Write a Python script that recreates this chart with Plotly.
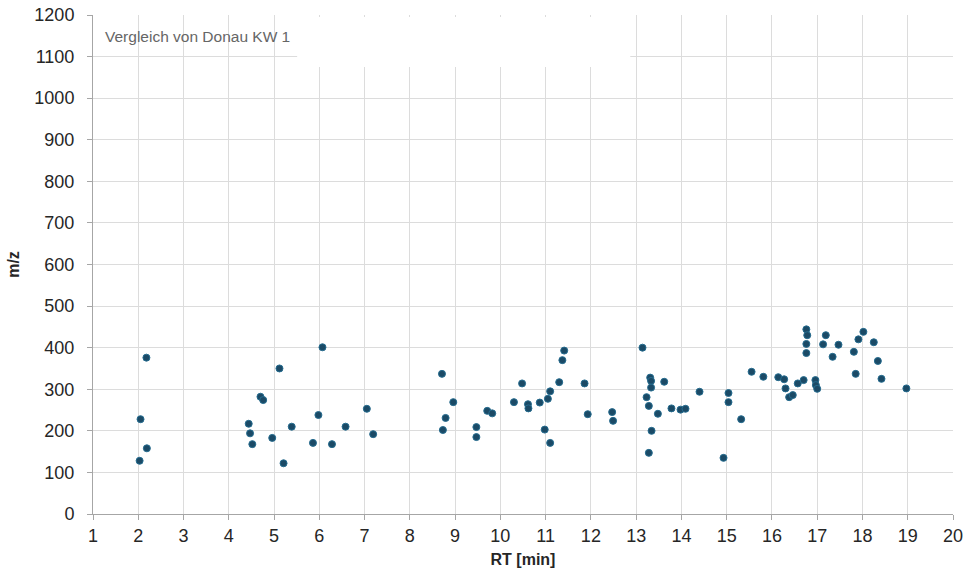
import plotly.graph_objects as go

# Retention time [min]
rt = [2.18, 2.05, 2.19, 2.03, 5.12, 4.70, 4.76, 4.44, 4.47, 4.52, 4.96, 5.39, 5.21,
      6.07, 5.86, 5.98, 6.28, 6.58, 7.05, 7.19, 8.71, 8.79, 8.73, 8.96, 9.47, 9.47,
      9.71, 9.82, 10.30,
      10.48, 10.61, 10.62, 10.87, 11.05, 11.10, 10.98, 11.10, 11.30, 11.37, 11.41,
      11.86, 11.93, 12.47, 12.49, 13.14, 13.31, 13.33, 13.33, 13.23, 13.28, 13.34,
      13.28, 13.48, 13.62, 13.78, 13.98, 14.09, 14.40,
      14.93, 15.04, 15.04, 15.32, 15.55, 15.81, 16.14, 16.27, 16.30, 16.38, 16.46,
      16.57, 16.70, 16.76, 16.78, 16.76, 16.76, 16.96, 16.97, 17.00, 17.19, 17.13,
      17.34, 17.47, 17.81, 17.85, 17.91, 18.02, 18.25, 18.34, 18.42, 18.97]
# m/z
mz = [376, 228, 158, 128, 350, 282, 274, 217, 194, 168, 183, 210, 122,
      401, 171, 238, 168, 210, 253, 192, 337, 231, 202, 269, 209, 185,
      248, 242, 269,
      314, 264, 254, 268, 277, 295, 203, 171, 317, 370, 393,
      314, 240, 245, 224, 400, 328, 320, 304, 281, 260, 200,
      147, 241, 318, 254, 251, 253, 294,
      135, 291, 269, 228, 342, 330, 329, 324, 302, 281, 286,
      314, 322, 444, 430, 409, 387, 322, 310, 301, 430, 408,
      378, 407, 390, 337, 420, 438, 413, 368, 325, 302]

x_ticks = list(range(1, 21))
y_ticks = list(range(0, 1201, 100))
title_text = "Vergleich von Donau KW 1"

fig = go.Figure()
fig.add_trace(go.Scatter(
    x=rt, y=mz, mode="markers",
    marker=dict(size=7, color="#1b4a66", line=dict(color="#256c8f", width=1)),
    showlegend=False,
))

font_family = "Liberation Sans, Arial, sans-serif"
fig.update_layout(
    width=965, height=573,
    margin=dict(l=93, r=12, t=15, b=59),
    plot_bgcolor="white", paper_bgcolor="white",
    font=dict(family=font_family, size=18, color="#262626"),
    xaxis=dict(
        range=[1, 20], tickvals=x_ticks, ticktext=[str(v) for v in x_ticks],
        showgrid=True, gridcolor="#dcdcdc", gridwidth=1,
        showline=True, linecolor="#a6a6a6", linewidth=1,
        ticks="outside", ticklen=5, tickcolor="#a6a6a6",
        zeroline=False, automargin=False,
        title=dict(text="<b>RT [min]</b>", font=dict(size=16, color="#262626"), standoff=9),
    ),
    yaxis=dict(
        range=[0, 1200], tickvals=y_ticks, ticktext=[str(v) for v in y_ticks],
        showgrid=True, gridcolor="#dcdcdc", gridwidth=1,
        showline=True, linecolor="#a6a6a6", linewidth=1,
        ticks="outside", ticklen=5, tickcolor="#a6a6a6",
        ticklabelstandoff=9,
        zeroline=False, automargin=False,
        title=dict(text="<b>m/z</b>", font=dict(size=16, color="#262626"), standoff=10),
    ),
    shapes=[dict(type="rect", xref="x", yref="y", x0=5.51, x1=12.87, y0=1075, y1=1195,
                 fillcolor="white", line=dict(width=0), layer="above")],
    annotations=[dict(text=title_text, xref="paper", yref="paper", x=0.012, y=0.978,
                      xanchor="left", yanchor="top", showarrow=False,
                      font=dict(size=15.5, color="#666666", family=font_family))],
)

fig.write_html("out.html")
